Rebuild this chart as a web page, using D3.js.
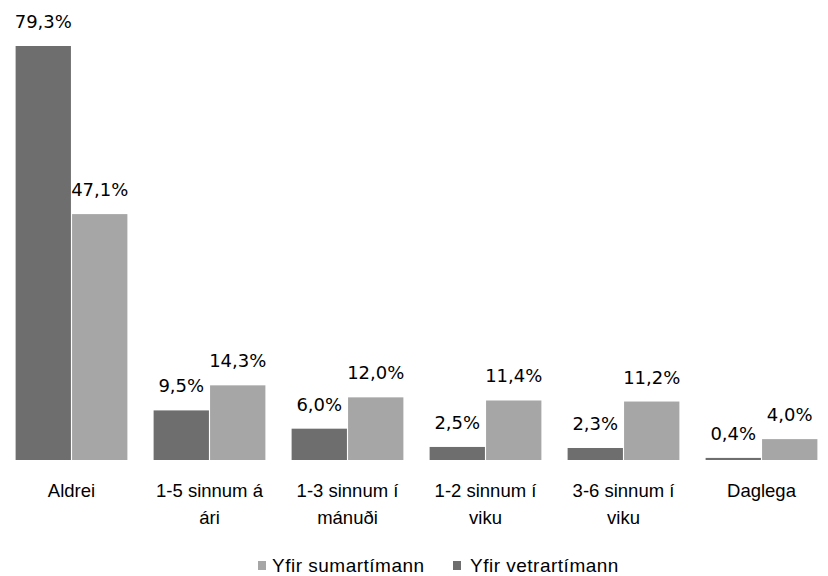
<!DOCTYPE html>
<html><head><meta charset="utf-8">
<script src="https://cdn.jsdelivr.net/npm/d3@7"></script>
<style>body{margin:0;background:#fff}svg{display:block}</style>
</head><body>
<svg id="c" width="828" height="576"></svg>
<script>
const categories = ["Aldrei","1-5 sinnum á ári","1-3 sinnum í mánuði","1-2 sinnum í viku","3-6 sinnum í viku","Daglega"];
const winterValues = [79.3, 9.5, 6.0, 2.5, 2.3, 0.4];
const summerValues = [47.1, 14.3, 12.0, 11.4, 11.2, 4.0];
const seriesNames = ["Yfir vetrartímann","Yfir sumartímann"];
const legendOrder = ["Yfir sumartímann","Yfir vetrartímann"];

const colors = {"Yfir vetrartímann":"#6e6e6e","Yfir sumartímann":"#a6a6a6"};
const svg = d3.select("#c");
const W = 828, H = 576;
const baseY = 460, maxPx = 414;
const x = d3.scaleBand().domain(categories).range([2.5, 830.5]).paddingInner(0.19).paddingOuter(0.095);
const xs = d3.scaleBand().domain(seriesNames).range([0, x.bandwidth()]).paddingInner(0.02);
const y = d3.scaleLinear().domain([0, 79.3]).range([baseY, baseY - maxPx]);
const fmt = v => v.toFixed(1).replace(".", ",") + "%";
const valueFont = "'DejaVu Sans', sans-serif";
const catFont = "'Liberation Sans', Arial, sans-serif";

const data = categories.map((c,i)=>({cat:c, vals:[{s:seriesNames[0], v:winterValues[i]},{s:seriesNames[1], v:summerValues[i]}]}));

const g = svg.selectAll("g.grp").data(data).join("g").attr("transform", d=>`translate(${x(d.cat)},0)`);
g.selectAll("rect").data(d=>d.vals).join("rect")
  .attr("x", d=>xs(d.s)).attr("width", xs.bandwidth())
  .attr("y", d=>y(d.v)).attr("height", d=>baseY - y(d.v))
  .attr("fill", d=>colors[d.s]);
g.selectAll("text.val").data(d=>d.vals).join("text").attr("class","val")
  .attr("x", d=>xs(d.s)+xs.bandwidth()/2).attr("y", d=>y(d.v)-18)
  .attr("text-anchor","middle").attr("font-family",valueFont).attr("font-size",18).attr("fill","#000")
  .text(d=>fmt(d.v));

// category labels with wrap
const cl = svg.selectAll("text.cat").data(categories).join("text").attr("class","cat")
  .attr("x", d=>x(d)+x.bandwidth()/2).attr("y", 497)
  .attr("text-anchor","middle").attr("font-family",catFont).attr("font-size",18.5).attr("fill","#000");
cl.each(function(d){
  const el = d3.select(this);
  const words = d.split(" ");
  let line = [], lines = [];
  const t = el.append("tspan");
  words.forEach(w=>{
    line.push(w); t.text(line.join(" "));
    if (t.node().getComputedTextLength() > 120 && line.length>1){ line.pop(); lines.push(line.join(" ")); line=[w]; }
  });
  lines.push(line.join(" "));
  t.remove();
  lines.forEach((l,i)=>el.append("tspan").attr("x", x(d)+x.bandwidth()/2).attr("dy", i?26.5:0).text(l));
});

// legend
const leg = svg.append("g").attr("transform","translate(0,572)");
const lx = [258, 453];
const tx = [272, 470];
legendOrder.forEach((n,i)=>{
  leg.append("rect").attr("x",lx[i]).attr("y",-11).attr("width",8).attr("height",9).attr("fill",colors[n]);
  leg.append("text").attr("x",tx[i]).attr("y",0).attr("font-family",catFont).attr("font-size",19).attr("letter-spacing",0.5).attr("fill","#000").text(n);
});
</script>
</body></html>
